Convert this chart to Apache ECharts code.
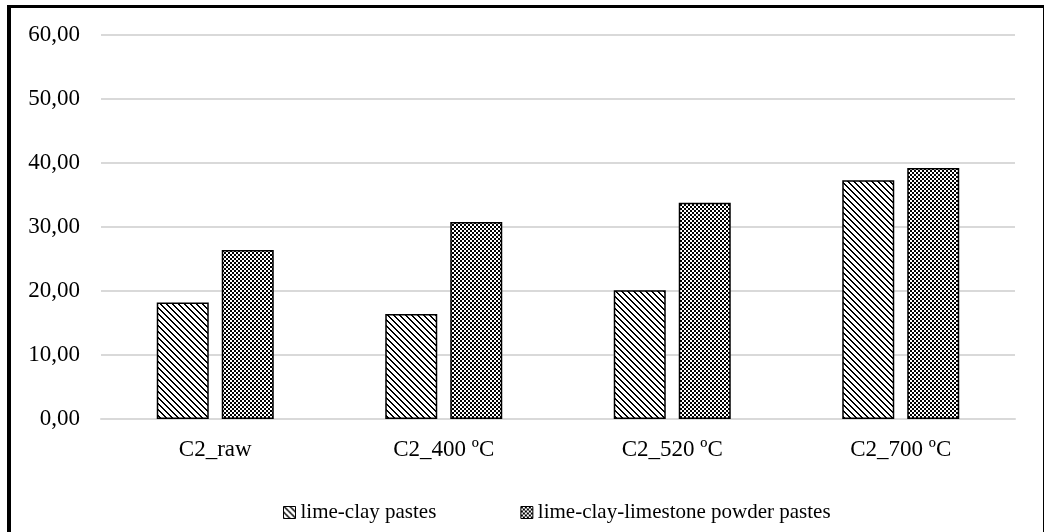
<!DOCTYPE html>
<html>
<head>
<meta charset="utf-8">
<script src="https://cdn.jsdelivr.net/npm/echarts@6/dist/echarts.min.js"></script>
<style>
html,body{margin:0;padding:0;background:#fff;}
#chart{width:1044px;height:532px;position:absolute;left:0;top:0;}
#frame{position:absolute;left:7px;top:5px;width:1032px;height:540px;border-left:4px solid #000;border-top:3px solid #000;border-right:2px solid #000;pointer-events:none;}
</style>
</head>
<body>
<div id="chart"></div>
<div id="frame"></div>
<script>
const categories = ['C2_raw', 'C2_400 ºC', 'C2_520 ºC', 'C2_700 ºC'];
const seriesNames = ['lime-clay pastes', 'lime-clay-limestone powder pastes'];
const limeClay = [18.2, 16.4, 20.1, 37.3];
const limeClayLimestone = [26.4, 30.8, 33.8, 39.2];
const yTicks = [0, 10, 20, 30, 40, 50, 60];

function makePattern(size, fn) {
  const c = document.createElement('canvas');
  c.width = size; c.height = size;
  const ctx = c.getContext('2d');
  ctx.fillStyle = '#fff';
  ctx.fillRect(0, 0, size, size);
  ctx.fillStyle = '#000';
  for (let y = 0; y < size; y++) {
    for (let x = 0; x < size; x++) {
      if (fn(x, y)) ctx.fillRect(x, y, 1, 1);
    }
  }
  return { image: c, repeat: 'repeat' };
}
const hatch = makePattern(6, (x, y) => (((x - y) % 6) + 6) % 6 < 2);
const checker = makePattern(4, (x, y) => ((x >> 1) + (y >> 1)) % 2 === 0 || (x === 3 && y === 3));

const font = 'Liberation Serif';
const chart = echarts.init(document.getElementById('chart'), null, { renderer: 'canvas' });
chart.setOption({
  animation: false,
  backgroundColor: '#fff',
  grid: { left: 101, right: 29, top: 35, bottom: 113, containLabel: false },
  legend: {
    top: 497,
    left: 278,
    icon: 'rect',
    itemWidth: 12,
    itemHeight: 12,
    itemGap: 84,
    textStyle: { fontFamily: font, fontSize: 21, color: '#000' },
    itemStyle: { borderColor: '#000', borderWidth: 1 },
    data: seriesNames
  },
  xAxis: {
    type: 'category',
    data: categories,
    axisLine: { show: true, lineStyle: { color: '#d9d9d9', width: 2 } },
    axisTick: { show: false },
    axisLabel: { fontFamily: font, fontSize: 23, color: '#000', margin: 19 }
  },
  yAxis: {
    type: 'value',
    min: yTicks[0],
    max: yTicks[yTicks.length - 1],
    interval: 10,
    axisLine: { show: false },
    axisTick: { show: false },
    splitLine: { lineStyle: { color: '#d9d9d9', width: 2 } },
    axisLabel: {
      fontFamily: font, fontSize: 23, color: '#000', margin: 21,
      formatter: v => v.toFixed(2).replace('.', ',')
    }
  },
  series: [
    {
      name: seriesNames[0], type: 'bar', data: limeClay,
      barWidth: 52, barGap: '25%',
      itemStyle: { color: hatch, borderColor: '#000', borderWidth: 1.5 }
    },
    {
      name: seriesNames[1], type: 'bar', data: limeClayLimestone,
      barWidth: 52, barGap: '25%',
      itemStyle: { color: checker, borderColor: '#000', borderWidth: 1.5 }
    }
  ]
});
</script>
</body>
</html>
